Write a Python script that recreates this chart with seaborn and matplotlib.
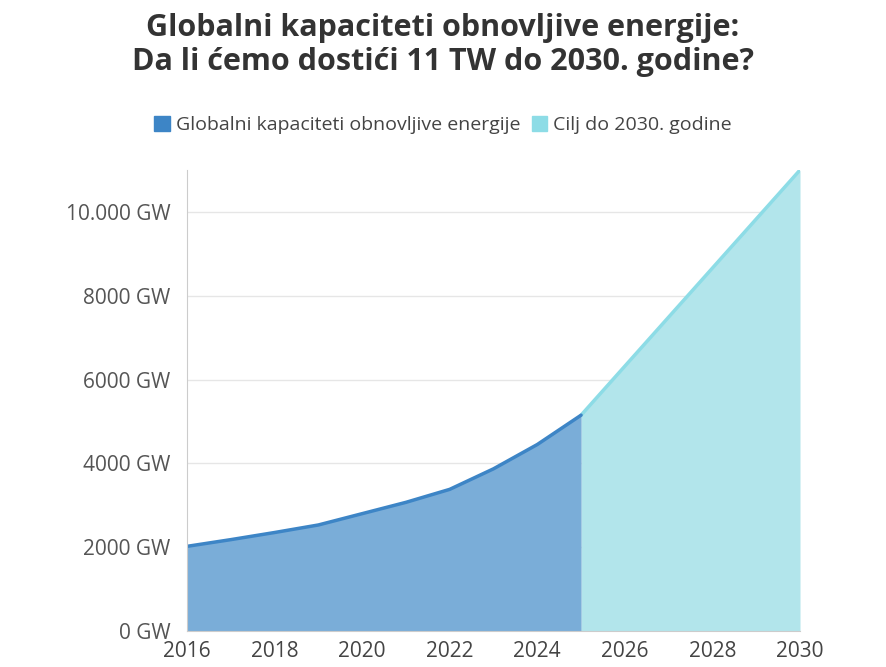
import matplotlib.pyplot as plt
import seaborn as sns
import pandas as pd
from matplotlib.patches import Patch

years = [2016, 2017, 2018, 2019, 2020, 2021, 2022, 2023, 2024, 2025]
capacity = [2020, 2180, 2350, 2530, 2800, 3070, 3380, 3870, 4450, 5150]
target_years = [2025, 2030]
target = [5150, 11000]
yticks = [0, 2000, 4000, 6000, 8000, 10000]
ylabels = ['0 GW', '2000 GW', '4000 GW', '6000 GW', '8000 GW', '10.000 GW']

df = pd.DataFrame({'year': years, 'gw': capacity})
dt = pd.DataFrame({'year': target_years, 'gw': target})

sns.set_style('white')
plt.rcParams['font.family'] = ['Open Sans', 'DejaVu Sans']

fig = plt.figure(figsize=(8.86, 6.67), dpi=100)
ax = fig.add_axes([187/886, 36/667, 613/886, 461/667])

c1, c2 = '#3d85c6', '#8ddce6'
ax.fill_between(dt['year'], dt['gw'], color='#b2e5eb', lw=0)
sns.lineplot(data=dt, x='year', y='gw', color=c2, lw=2.5, ax=ax)
ax.fill_between(df['year'], df['gw'], color='#7aadd8', lw=0)
sns.lineplot(data=df, x='year', y='gw', color=c1, lw=2.5, ax=ax)

ax.set_xlim(2016, 2030)
ax.set_ylim(0, 11000)
ax.set_yticks(yticks)
ax.set_yticklabels(ylabels)
ax.set_xticks(range(2016, 2031, 2))
ax.set_xticks(range(2016, 2031), minor=True)
ax.tick_params(axis='x', which='both', length=6, color='#cccccc', labelsize=15, labelcolor='#444444', pad=1)
ax.tick_params(axis='y', length=0, labelsize=15, labelcolor='#555555', pad=12)
ax.grid(axis='y', color='#e6e6e6', lw=1)
ax.set_axisbelow(True)
for s in ['top', 'right']:
    ax.spines[s].set_visible(False)
ax.spines['left'].set_color('#cccccc')
ax.spines['bottom'].set_color('#cccccc')
ax.set_xlabel('')
ax.set_ylabel('')

fig.text(0.5, 0.98, 'Globalni kapaciteti obnovljive energije:\nDa li ćemo dostići 11 TW do 2030. godine?',
         ha='center', va='top', fontsize=22, fontweight='bold', color='#333333', linespacing=1.15)
handles = [Patch(color=c1, label='Globalni kapaciteti obnovljive energije'),
           Patch(color=c2, label='Cilj do 2030. godine')]
fig.legend(handles=handles, loc='center', bbox_to_anchor=(0.5, 0.813), ncol=2, frameon=False,
           fontsize=14, handlelength=0.8, handleheight=0.8, columnspacing=0.6, handletextpad=0.3,
           labelcolor='#444444')

fig.savefig('out.png', dpi=100)
